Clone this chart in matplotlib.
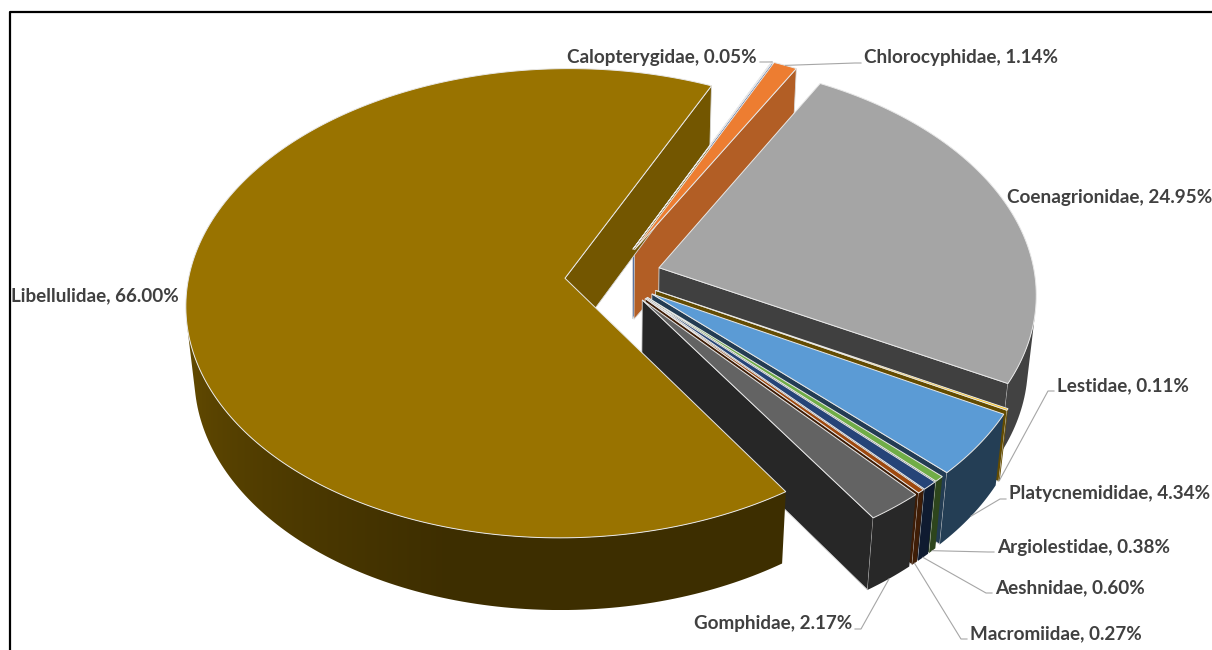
import numpy as np
import matplotlib.pyplot as plt
from matplotlib.colors import to_rgb

families = ['Calopterygidae', 'Chlorocyphidae', 'Coenagrionidae', 'Lestidae',
            'Platycnemididae', 'Argiolestidae', 'Aeshnidae', 'Macromiidae',
            'Gomphidae', 'Libellulidae']
shares = [0.05, 1.14, 24.95, 0.11, 4.34, 0.38, 0.60, 0.27, 2.17, 66.00]
colors = ['#4472C4', '#ED7D31', '#A5A5A5', '#FFC000', '#5B9BD5', '#70AD47',
          '#264478', '#9E480E', '#636363', '#997300']

# label text position (px), alignment, and where the leader meets the slice
labels = {
    'Calopterygidae': (757, 57, 'right', 'top'),
    'Chlorocyphidae': (864, 58, 'left', 'top'),
    'Coenagrionidae': (1007, 197, 'left', None),
    'Lestidae': (1057, 386, 'left', 'bottom'),
    'Platycnemididae': (1009, 494, 'left', 'bottom'),
    'Argiolestidae': (997, 547, 'left', 'bottom'),
    'Aeshnidae': (995, 588, 'left', 'bottom'),
    'Macromiidae': (970, 634, 'left', 'bottom'),
    'Gomphidae': (852, 624, 'right', 'bottom'),
    'Libellulidae': (11, 296, 'left', None),
}

W, H = 1212, 650
CX, CY = 613, 276          # screen position of the pie centre
DIST = 7.4                 # camera distance in pie radii
FOC = 376 * DIST
ELEV = np.radians(38)
SIN_E, COS_E = np.sin(ELEV), np.cos(ELEV)
THICK = 0.24
EXPLODE = 0.128
START = 24.5               # angle of first slice, clockwise from the back
CAM = np.array([0.0, -DIST * COS_E, DIST * SIN_E])


def proj(x, y, z):
    t = DIST + y * COS_E - z * SIN_E
    return CX + x * FOC / t, CY - (y * SIN_E + z * COS_E) * FOC / t


def shade(col, f):
    return tuple(np.array(to_rgb(col)) * f)


def wall_shade(psi):
    return 0.40 + 0.30 * np.clip((psi - 195) / 75, 0, 1)


fig = plt.figure(figsize=(W / 100, H / 100), dpi=100)
ax = fig.add_axes([0, 0, 1, 1])

total = sum(shares)
faces = []     # (distance, kind, payload)
tops = []
anchors = {}
ang = START
for name, val, col in zip(families, shares, colors):
    a0 = ang
    a1 = ang + val / total * 360
    ang = a1
    m = np.radians((a0 + a1) / 2)
    ox, oy = EXPLODE * np.sin(m), EXPLODE * np.cos(m)
    n = max(2, int(np.ceil(a1 - a0)) + 1)
    th = np.radians(np.linspace(a0, a1, n))
    xs = ox + np.sin(th)
    ys = oy + np.cos(th)

    px, py = proj(np.r_[ox, xs], np.r_[oy, ys], 0.0)
    tops.append((np.c_[px, py], col))

    anchors[name] = {
        'top': proj(ox + np.sin(m), oy + np.cos(m), 0.0),
        'bottom': proj(ox + np.sin(m), oy + np.cos(m), -THICK),
    }

    # outer curved wall: keep the arc steps that face the camera
    vis = []
    for k in range(n - 1):
        tm = (th[k] + th[k + 1]) / 2
        nrm = np.array([np.sin(tm), np.cos(tm), 0.0])
        ctr = np.array([ox + np.sin(tm), oy + np.cos(tm), -THICK / 2])
        if nrm @ (CAM - ctr) > 0:
            vis.append(k)
    if vis:
        ks = np.arange(vis[0], vis[-1] + 2)
        tx_, ty_ = proj(xs[ks], ys[ks], 0.0)
        bx_, by_ = proj(xs[ks], ys[ks], -THICK)
        poly = np.c_[np.r_[tx_, bx_[::-1]], np.r_[ty_, by_[::-1]]]
        tmid = (th[ks[:-1]] + th[ks[1:]]) / 2
        f = wall_shade(np.degrees(tmid) % 360)
        cxs = (tx_[:-1] + tx_[1:]) / 2
        tm = tmid.mean()
        ctr = np.array([ox + np.sin(tm), oy + np.cos(tm), -THICK / 2])
        faces.append((np.linalg.norm(CAM - ctr), 'wall', (poly, col, cxs, f)))

    # radial cut faces
    for a, sgn in ((a0, -1), (a1, 1)):
        r = np.radians(a)
        nrm = sgn * np.array([np.cos(r), -np.sin(r), 0.0])
        ctr = np.array([ox + 0.5 * np.sin(r), oy + 0.5 * np.cos(r), -THICK / 2])
        if nrm @ (CAM - ctr) <= 0:
            continue
        qx = np.array([ox, ox + np.sin(r), ox + np.sin(r), ox])
        qy = np.array([oy, oy + np.cos(r), oy + np.cos(r), oy])
        qz = np.array([0, 0, -THICK, -THICK])
        sx, sy = proj(qx, qy, qz)
        psi = np.degrees(np.arctan2(nrm[0], nrm[1])) % 360
        fr = 0.75 if psi < 150 else 0.39
        faces.append((np.linalg.norm(CAM - ctr), 'cut',
                      (np.c_[sx, sy], shade(col, fr))))

faces.sort(key=lambda w: -w[0])
z = 1
for _, kind, data in faces:
    if kind == 'cut':
        xy, fc = data
        ax.add_patch(plt.Polygon(xy, closed=True, facecolor=fc,
                                 edgecolor='#d9d9d9', linewidth=0.6, zorder=z))
    else:
        poly, col, cxs, f = data
        if np.ptp(f) < 0.01:
            ax.add_patch(plt.Polygon(poly, closed=True, facecolor=shade(col, f[0]),
                                     edgecolor='none', zorder=z))
        else:
            # shading changes along the rim: fill with a clipped gradient
            patch = plt.Polygon(poly, closed=True, facecolor='none',
                                edgecolor='none', zorder=z)
            ax.add_patch(patch)
            x0, x1 = poly[:, 0].min(), poly[:, 0].max()
            y0, y1 = poly[:, 1].min(), poly[:, 1].max()
            cols = np.linspace(x0, x1, 400)
            order = np.argsort(cxs)
            fcol = np.interp(cols, cxs[order], f[order])
            img = np.array(to_rgb(col))[None, None, :] * fcol[None, :, None]
            im = ax.imshow(img, extent=(x0, x1, y1, y0), aspect='auto',
                           interpolation='bilinear', zorder=z)
            im.set_clip_path(patch)
    z += 1
for xy, col in tops:
    ax.add_patch(plt.Polygon(xy, closed=True, facecolor=col, edgecolor='#e8e8e8',
                             linewidth=0.7, zorder=z))
    z += 1

# data labels with leader lines
for name, val in zip(families, shares):
    tx, ty, ha, where = labels[name]
    ax.text(tx, ty, f'{name}, {val:.2f}%', ha=ha, va='center', fontsize=13.6,
            fontweight='bold', family='Lato', color='#404040', zorder=z + 5)
    if where is not None:
        s = -1 if ha == 'left' else 1
        bx, by = anchors[name][where]
        ax.plot([tx + 3 * s, tx + 9 * s, bx], [ty + 5, ty + 5, by],
                color='#a6a6a6', lw=0.8, zorder=z + 4)

# chart frame
ax.plot([10, 10, W], [H, 12, 12], color='black', lw=1.6, zorder=z + 6,
        solid_capstyle='butt')

ax.set_xlim(0, W)
ax.set_ylim(H, 0)
ax.axis('off')

fig.savefig('out.png', dpi=100)
